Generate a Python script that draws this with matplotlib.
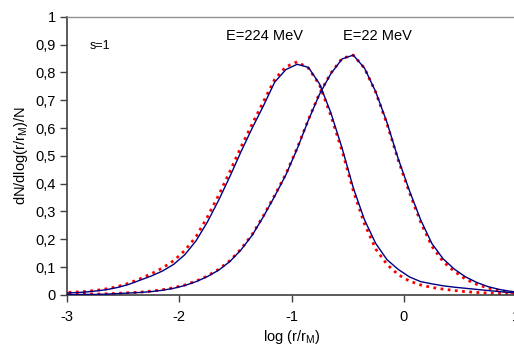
import numpy as np
import matplotlib
matplotlib.use("Agg")
import matplotlib.pyplot as plt

plt.rcParams['font.family'] = ['Liberation Sans', 'DejaVu Sans']
plt.rcParams['mathtext.default'] = 'regular'

# log(r/r_M) grid shared by all curves
log_r = np.round(np.arange(-3.05, 1.06, 0.1), 2)

# E = 224 MeV: calculation (solid) and fit (dotted)
e224_calc = [0.006, 0.008, 0.010, 0.014, 0.019, 0.027, 0.038, 0.053, 0.068, 0.086,
             0.110, 0.145, 0.195, 0.262, 0.340, 0.425, 0.515, 0.600, 0.680, 0.765,
             0.810, 0.829, 0.818, 0.758, 0.655, 0.528, 0.385, 0.270, 0.185, 0.127,
             0.092, 0.065, 0.048, 0.040, 0.033, 0.028, 0.024, 0.020, 0.016, 0.012,
             0.009, 0.007]
e224_fit = [0.008, 0.010, 0.012, 0.016, 0.022, 0.030, 0.042, 0.058, 0.076, 0.097,
            0.123, 0.160, 0.210, 0.280, 0.358, 0.443, 0.532, 0.615, 0.695, 0.775,
            0.820, 0.838, 0.815, 0.755, 0.645, 0.518, 0.375, 0.255, 0.165, 0.110,
            0.073, 0.050, 0.036, 0.027, 0.021, 0.016, 0.012, 0.009, 0.007, 0.005,
            0.004, 0.003]

# E = 22 MeV
e22_calc = [0.001, 0.001, 0.002, 0.002, 0.003, 0.005, 0.007, 0.009, 0.012, 0.017,
            0.024, 0.034, 0.048, 0.066, 0.089, 0.120, 0.162, 0.215, 0.282, 0.355,
            0.432, 0.525, 0.628, 0.722, 0.795, 0.848, 0.862, 0.815, 0.730, 0.620,
            0.490, 0.375, 0.270, 0.185, 0.130, 0.093, 0.065, 0.045, 0.030, 0.020,
            0.013, 0.009]
e22_fit = [0.002, 0.002, 0.003, 0.003, 0.004, 0.006, 0.008, 0.010, 0.014, 0.019,
           0.026, 0.036, 0.050, 0.068, 0.092, 0.123, 0.165, 0.218, 0.285, 0.358,
           0.435, 0.528, 0.630, 0.725, 0.797, 0.850, 0.862, 0.815, 0.728, 0.615,
           0.485, 0.368, 0.262, 0.175, 0.120, 0.085, 0.057, 0.038, 0.025, 0.016,
           0.010, 0.007]

yticks = np.round(np.arange(0, 1.01, 0.1), 1)
ytick_labels = ['0', '0,1', '0,2', '0,3', '0,4', '0,5', '0,6', '0,7', '0,8', '0,9', '1']
xticks = [-3, -2, -1, 0, 1]
xtick_labels = ['-3', '-2', '-1', '0', '1']

fig = plt.figure(figsize=(5.14, 3.52), dpi=100)
ax = fig.add_axes([0.1304, 0.162, 0.8736, 0.7906])

for calc, fit in [(e224_calc, e224_fit), (e22_calc, e22_fit)]:
    ax.plot(log_r, fit, color='#ff0000', lw=2.0, linestyle=(0, (1, 1.6)), zorder=2)
    ax.plot(log_r, calc, color='#000080', lw=1.0, zorder=3)

ax.set_xlim(-3, 1)
ax.set_ylim(0, 1)
ax.set_xticks(xticks)
ax.set_xticklabels(xtick_labels)
ax.set_yticks(yticks)
ax.set_yticklabels(ytick_labels)
ax.tick_params(axis='both', direction='out', length=5, width=1, colors='#404040',
               labelcolor='black', labelsize=10.5, pad=3)
ax.tick_params(axis='x', pad=6)

for side in ['left', 'bottom']:
    ax.spines[side].set_color('#404040')
    ax.spines[side].set_linewidth(1.2)
ax.spines['top'].set_color('#909090')
ax.spines['top'].set_linewidth(1.0)
ax.spines['right'].set_visible(False)

ax.set_xlabel('log (r/r$_M$)', fontsize=10.5, labelpad=3)
ax.set_ylabel('dN/dlog(r/r$_M$)/N', fontsize=10.5, labelpad=4)

ax.text(-2.80, 0.895, 's=1', fontsize=9, va='center', ha='left')
ax.text(-1.58, 0.93, 'E=224 MeV', fontsize=10.5, va='center', ha='left')
ax.text(-0.54, 0.93, 'E=22 MeV', fontsize=10.5, va='center', ha='left')

fig.savefig('out.png', dpi=100)
